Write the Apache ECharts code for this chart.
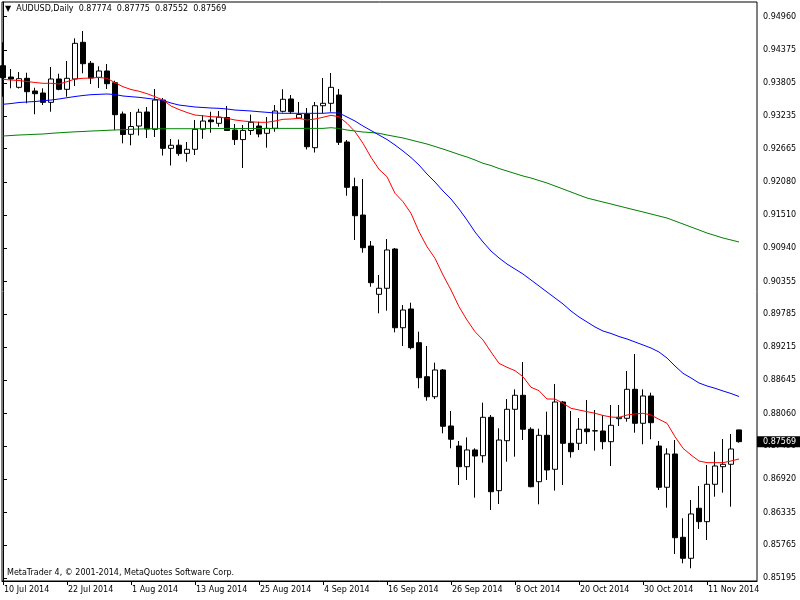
<!DOCTYPE html>
<html>
<head>
<meta charset="utf-8">
<script src="https://cdn.jsdelivr.net/npm/echarts@6/dist/echarts.min.js"></script>
<style>html,body{margin:0;padding:0;background:#fff}#c{width:800px;height:600px}</style>
</head>
<body>
<div id="c"></div>
<script>
const symbolName = 'AUDUSD';
const period = 'Daily';
const dates = ['10 Jul 2014','11 Jul 2014','14 Jul 2014','15 Jul 2014','16 Jul 2014','17 Jul 2014','18 Jul 2014','21 Jul 2014',
'22 Jul 2014','23 Jul 2014','24 Jul 2014','25 Jul 2014','28 Jul 2014','29 Jul 2014','30 Jul 2014','31 Jul 2014',
'1 Aug 2014','4 Aug 2014','5 Aug 2014','6 Aug 2014','7 Aug 2014','8 Aug 2014','11 Aug 2014','12 Aug 2014',
'13 Aug 2014','14 Aug 2014','15 Aug 2014','18 Aug 2014','19 Aug 2014','20 Aug 2014','21 Aug 2014','22 Aug 2014',
'25 Aug 2014','26 Aug 2014','27 Aug 2014','28 Aug 2014','29 Aug 2014','1 Sep 2014','2 Sep 2014','3 Sep 2014',
'4 Sep 2014','5 Sep 2014','8 Sep 2014','9 Sep 2014','10 Sep 2014','11 Sep 2014','12 Sep 2014','15 Sep 2014',
'16 Sep 2014','17 Sep 2014','18 Sep 2014','19 Sep 2014','22 Sep 2014','23 Sep 2014','24 Sep 2014','25 Sep 2014',
'26 Sep 2014','29 Sep 2014','30 Sep 2014','1 Oct 2014','2 Oct 2014','3 Oct 2014','6 Oct 2014','7 Oct 2014',
'8 Oct 2014','9 Oct 2014','10 Oct 2014','13 Oct 2014','14 Oct 2014','15 Oct 2014','16 Oct 2014','17 Oct 2014',
'20 Oct 2014','21 Oct 2014','22 Oct 2014','23 Oct 2014','24 Oct 2014','27 Oct 2014','28 Oct 2014','29 Oct 2014',
'30 Oct 2014','31 Oct 2014','3 Nov 2014','4 Nov 2014','5 Nov 2014','6 Nov 2014','7 Nov 2014','10 Nov 2014',
'11 Nov 2014','12 Nov 2014','13 Nov 2014','14 Nov 2014','17 Nov 2014'];

const open = [0.94108,0.93911,0.93732,0.93889,0.93668,0.93633,0.93471,0.93877,0.93697,0.93877,
0.94515,0.94150,0.93906,0.94016,0.93812,0.93268,0.92915,0.93059,0.93303,0.93002,
0.93511,0.92671,0.92725,0.92584,0.92654,0.93004,0.93164,0.93106,0.93207,0.92990,
0.92823,0.92981,0.93059,0.92932,0.93019,0.93315,0.93529,0.93198,0.93268,0.92682,
0.93412,0.93454,0.93598,0.92781,0.92004,0.91511,0.90972,0.90132,0.90237,0.90920,
0.89551,0.89877,0.89291,0.88699,0.88351,0.88816,0.87842,0.87494,0.87134,0.87425,
0.87325,0.87993,0.86717,0.87586,0.88132,0.88376,0.87785,0.86873,0.87680,0.87089,
0.88259,0.87541,0.87541,0.87790,0.87755,0.87755,0.87569,0.87969,0.87976,0.88480,
0.87889,0.88364,0.87494,0.86776,0.87355,0.85906,0.85541,0.86411,0.86178,0.86828,
0.87134,0.87176,0.87774];
const high = [0.94515,0.94050,0.93998,0.93986,0.93725,0.93715,0.94085,0.93969,0.94190,0.94584,
0.94711,0.94190,0.94097,0.94137,0.93847,0.93311,0.93303,0.93358,0.93390,0.93703,
0.93546,0.92833,0.92824,0.92781,0.93164,0.93250,0.93308,0.93320,0.93407,0.93094,
0.93077,0.93256,0.93134,0.93216,0.93424,0.93699,0.93598,0.93477,0.93372,0.93477,
0.93894,0.93981,0.93703,0.92816,0.92160,0.92137,0.91059,0.90468,0.91094,0.90937,
0.89946,0.89986,0.89482,0.89233,0.88943,0.88833,0.88103,0.87581,0.87645,0.87454,
0.88247,0.88033,0.87802,0.88311,0.88480,0.88955,0.87819,0.87795,0.88091,0.88572,
0.88277,0.88103,0.87981,0.88294,0.88120,0.88033,0.88207,0.88207,0.88798,0.89094,
0.88480,0.88421,0.87581,0.87454,0.87598,0.86237,0.86555,0.86798,0.87164,0.87395,
0.87616,0.87703,0.87775];
const low = [0.93569,0.93715,0.93711,0.93454,0.93263,0.93424,0.93308,0.93680,0.93569,0.93755,
0.93976,0.93790,0.93720,0.93703,0.92990,0.92758,0.92724,0.92894,0.92851,0.92868,
0.92546,0.92372,0.92541,0.92438,0.92555,0.92837,0.92943,0.93047,0.92972,0.92729,
0.92329,0.92903,0.92864,0.92682,0.92960,0.93294,0.93273,0.93181,0.92651,0.92598,
0.93285,0.93308,0.92729,0.91847,0.91077,0.90856,0.90264,0.89802,0.89847,0.89471,
0.89233,0.89176,0.88498,0.88282,0.88311,0.87715,0.87454,0.86816,0.86903,0.86595,
0.87204,0.86381,0.86485,0.87221,0.87308,0.87598,0.86776,0.86480,0.86903,0.86717,
0.86816,0.87291,0.87425,0.87529,0.87412,0.87437,0.87146,0.87842,0.87917,0.87725,
0.87524,0.87611,0.86729,0.86421,0.85616,0.85454,0.85367,0.86051,0.85859,0.86612,
0.86682,0.86438,0.87552];
const close = [0.93899,0.93877,0.93882,0.93656,0.93621,0.93471,0.93877,0.93697,0.93889,0.94497,
0.94143,0.93894,0.94016,0.93795,0.93256,0.92911,0.93050,0.93299,0.93007,0.93511,
0.92671,0.92724,0.92579,0.92654,0.93002,0.93146,0.93134,0.93212,0.92981,0.92823,
0.92983,0.93124,0.92920,0.93019,0.93320,0.93524,0.93308,0.93259,0.92699,0.93412,
0.93454,0.93732,0.92776,0.91993,0.91499,0.90943,0.90334,0.90237,0.90903,0.89551,
0.89859,0.89204,0.88682,0.88351,0.88816,0.87837,0.87611,0.87134,0.87425,0.87320,
0.87993,0.86699,0.87598,0.88132,0.88376,0.87785,0.86786,0.87680,0.87077,0.88259,
0.87541,0.87395,0.87785,0.87743,0.87760,0.87569,0.87854,0.87993,0.88480,0.87889,
0.88364,0.87899,0.86776,0.87355,0.85899,0.85541,0.86312,0.86178,0.86828,0.87146,
0.87176,0.87442,0.87569];

// moving averages (red = fast, blue = medium, green = slow)
const maRed = [0.93871,0.93859,0.93850,0.93833,0.93816,0.93802,0.93802,0.93790,0.93830,0.93877,
0.93889,0.93894,0.93903,0.93889,0.93812,0.93743,0.93694,0.93664,0.93621,0.93569,
0.93511,0.93407,0.93346,0.93294,0.93250,0.93237,0.93221,0.93216,0.93193,0.93164,
0.93146,0.93134,0.93124,0.93124,0.93146,0.93176,0.93181,0.93193,0.93164,0.93181,
0.93211,0.93245,0.93221,0.93106,0.92960,0.92758,0.92515,0.92306,0.92177,0.91889,
0.91743,0.91541,0.91221,0.90960,0.90758,0.90468,0.90207,0.89917,0.89685,0.89482,
0.89338,0.89129,0.88932,0.88863,0.88804,0.88699,0.88515,0.88456,0.88311,0.88311,
0.88237,0.88150,0.88120,0.88091,0.88063,0.88025,0.87998,0.87990,0.88033,0.88051,
0.88063,0.88033,0.87958,0.87889,0.87656,0.87454,0.87338,0.87233,0.87204,0.87204,
0.87204,0.87233,0.87268];
const maBlue = [0.93437,0.93450,0.93468,0.93477,0.93485,0.93499,0.93511,0.93529,0.93551,0.93572,
0.93590,0.93604,0.93610,0.93616,0.93607,0.93581,0.93569,0.93558,0.93541,0.93524,
0.93503,0.93459,0.93424,0.93407,0.93390,0.93381,0.93372,0.93367,0.93355,0.93337,
0.93329,0.93320,0.93308,0.93297,0.93285,0.93280,0.93280,0.93280,0.93280,0.93280,
0.93280,0.93290,0.93285,0.93216,0.93146,0.93059,0.92981,0.92903,0.92824,0.92729,
0.92624,0.92511,0.92381,0.92224,0.92085,0.91929,0.91790,0.91616,0.91424,0.91216,
0.91042,0.90885,0.90764,0.90659,0.90572,0.90485,0.90381,0.90277,0.90172,0.90068,
0.89964,0.89842,0.89738,0.89651,0.89564,0.89494,0.89451,0.89398,0.89355,0.89303,
0.89251,0.89198,0.89129,0.89024,0.88885,0.88758,0.88677,0.88590,0.88538,0.88498,
0.88451,0.88407,0.88355];
const maGreen = [0.92885,0.92894,0.92903,0.92908,0.92915,0.92920,0.92932,0.92941,0.92950,0.92958,
0.92964,0.92972,0.92977,0.92984,0.92990,0.92995,0.93002,0.93007,0.93011,0.93012,
0.93012,0.93012,0.93012,0.93012,0.93012,0.93012,0.93015,0.93015,0.93015,0.93015,
0.93015,0.93015,0.93015,0.93015,0.93018,0.93018,0.93018,0.93018,0.93018,0.93018,
0.93018,0.93030,0.93016,0.92990,0.92972,0.92955,0.92946,0.92932,0.92903,0.92877,
0.92851,0.92816,0.92781,0.92746,0.92703,0.92659,0.92612,0.92564,0.92520,0.92468,
0.92411,0.92372,0.92320,0.92277,0.92233,0.92190,0.92155,0.92111,0.92068,0.92016,
0.91964,0.91911,0.91859,0.91807,0.91772,0.91737,0.91703,0.91668,0.91633,0.91598,
0.91564,0.91529,0.91494,0.91459,0.91407,0.91355,0.91303,0.91251,0.91198,0.91155,
0.91111,0.91077,0.91042];

const xLabelDates = ['10 Jul 2014','22 Jul 2014','1 Aug 2014','13 Aug 2014','25 Aug 2014','4 Sep 2014',
'16 Sep 2014','26 Sep 2014','8 Oct 2014','20 Oct 2014','30 Oct 2014','11 Nov 2014'];
const yTickLabels = [0.85195,0.85765,0.86335,0.86920,0.87490,0.88060,0.88645,0.89215,0.89785,
0.90355,0.90940,0.91510,0.92080,0.92665,0.93235,0.93805,0.94375,0.94960];

const FONT = 'DejaVu Sans';
const fmt = v => Number(v).toFixed(5);
const last = dates.length - 1;
const xTickIdx = xLabelDates.map(d => dates.indexOf(d));
const Y_MIN = 0.85146, Y_MAX = 0.95216;

const chart = echarts.init(document.getElementById('c'), null, {renderer: 'canvas'});
chart.setOption({
  animation: false,
  backgroundColor: '#ffffff',
  textStyle: {fontFamily: FONT},
  title: [
    {
      text: '\u25BC  ' + symbolName + ',' + period + '  ' + [open[last], high[last], low[last], close[last]].map(fmt).join('  '),
      left: 5, top: 5, padding: 0,
      textStyle: {fontFamily: FONT, fontSize: 8, fontWeight: 'normal', color: '#000'}
    },
    {
      text: 'MetaTrader 4, \u00A9 2001-2014, MetaQuotes Software Corp.',
      left: 7, top: 569, padding: 0,
      textStyle: {fontFamily: FONT, fontSize: 8, fontWeight: 'normal', color: '#000'}
    }
  ],
  grid: {left: 2, right: 43, top: 2, bottom: 19, show: true, borderColor: '#000', borderWidth: 1,
    backgroundColor: '#fff', outerBoundsMode: 'none', containLabel: false},
  xAxis: {
    type: 'value', min: -0.125, max: 94.25,
    axisLine: {show: true, lineStyle: {color: '#000', width: 1}},
    axisTick: {show: true, customValues: xTickIdx, length: 4, lineStyle: {color: '#000'}},
    axisLabel: {
      customValues: xTickIdx, formatter: v => dates[Math.round(v)] || '',
      align: 'left', margin: 5, padding: [0, 0, 0, 1],
      color: '#000', fontSize: 8, fontFamily: FONT
    },
    splitLine: {show: false}
  },
  yAxis: [
    {
      type: 'value', position: 'right', min: Y_MIN, max: Y_MAX,
      axisLine: {show: true, lineStyle: {color: '#000', width: 1}},
      axisTick: {show: true, customValues: yTickLabels, length: 4, lineStyle: {color: '#000'}},
      axisLabel: {customValues: yTickLabels, formatter: v => fmt(v), margin: 6, color: '#000', fontSize: 8, fontFamily: FONT},
      splitLine: {show: false}
    },
    {
      // current price marker (last close) on the price scale
      type: 'value', position: 'right', min: Y_MIN, max: Y_MAX, z: 20,
      axisLine: {show: false}, axisTick: {show: false}, splitLine: {show: false},
      axisLabel: {customValues: [close[last]], formatter: v => fmt(v), margin: 0,
        backgroundColor: '#000', color: '#fff', padding: [2, 6, 1, 6], fontSize: 8, fontFamily: FONT}
    }
  ],
  series: [
    {
      type: 'candlestick',
      data: dates.map((d, i) => [i, open[i], close[i], low[i], high[i]]),
      encode: {x: 0, y: [1, 2, 3, 4]},
      barWidth: 5,
      itemStyle: {color: '#ffffff', color0: '#000000', borderColor: '#000000', borderColor0: '#000000', borderWidth: 1}
    },
    {type: 'line', data: maGreen.map((v, i) => [i, v]), symbol: 'none', lineStyle: {color: '#008000', width: 1}},
    {type: 'line', data: maBlue.map((v, i) => [i, v]), symbol: 'none', lineStyle: {color: '#0000ff', width: 1}},
    {type: 'line', data: maRed.map((v, i) => [i, v]), symbol: 'none', lineStyle: {color: '#ff0000', width: 1}}
  ]
});
</script>
</body>
</html>
